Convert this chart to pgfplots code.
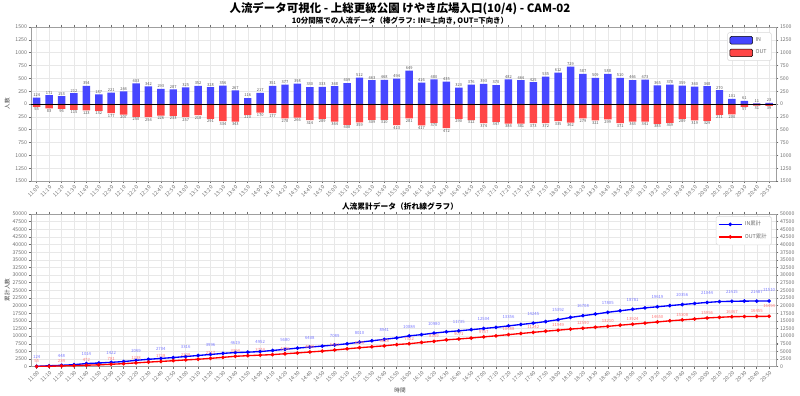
\documentclass[border=0pt]{standalone}
\usepackage{fontspec}
\setmainfont{Noto Sans CJK JP}
\usepackage{pgfplots}
\usepackage{pgfplotstable}
\pgfplotsset{compat=1.18}
\definecolor{inbar}{RGB}{70,70,255}
\definecolor{outbar}{RGB}{255,70,70}
\definecolor{gridc}{RGB}{232,232,232}
\definecolor{tickc}{RGB}{110,110,110}
\definecolor{inlab}{RGB}{120,120,255}
\definecolor{outlab}{RGB}{255,120,120}
\pgfplotsset{/pgf/number format/assume math mode=true, /pgf/number format/1000 sep={}}

\pgfplotstableread{
i vin vout cin cout
0 124 55 124 55
1 171 83 295 138
2 153 96 448 234
3 212 115 660 349
4 354 123 1014 472
5 187 132 1201 604
6 221 177 1422 781
7 244 207 1666 988
8 403 250 2069 1238
9 342 254 2411 1492
10 293 226 2704 1718
11 287 233 2991 1951
12 325 257 3316 2208
13 352 218 3668 2426
14 328 291 3996 2717
15 356 334 4352 3051
16 267 343 4619 3394
17 116 210 4735 3604
18 217 170 4952 3774
19 351 177 5303 3951
20 377 278 5680 4229
21 398 266 6078 4495
22 330 314 6408 4809
23 333 289 6741 5098
24 348 344 7089 5442
25 409 408 7498 5850
26 512 359 8010 6209
27 463 309 8473 6518
28 468 310 8941 6828
29 494 413 9435 7241
30 649 281 10084 7522
31 416 417 10500 7939
32 480 370 10980 8309
33 435 472 11415 8781
34 320 290 11735 9071
35 376 312 12111 9383
36 393 374 12504 9757
37 370 347 12874 10104
38 482 384 13356 10488
39 464 381 13820 10869
40 425 373 14245 11242
41 535 372 14780 11614
42 612 335 15392 11949
43 729 362 16121 12311
44 587 279 16708 12590
45 509 321 17217 12911
46 588 299 17805 13210
47 510 371 18315 13581
48 466 343 18781 13924
49 473 341 19254 14265
50 365 385 19619 14650
51 378 369 19997 15019
52 359 289 20356 15308
53 340 319 20696 15627
54 348 329 21044 15956
55 270 211 21314 16167
56 101 200 21415 16367
57 61 57 21476 16424
58 11 31 21487 16455
59 23 39 21510 16494
}\data

\pgfplotstableread{
i cin cout
0 124 55
2 448 234
4 1014 472
6 1422 781
8 2069 1238
10 2704 1718
12 3316 2208
14 3996 2717
16 4619 3394
18 4952 3774
20 5680 4229
22 6408 4809
24 7089 5442
26 8010 6209
28 8941 6828
30 10084 7522
32 10980 8309
34 11735 9071
36 12504 9757
38 13356 10488
40 14245 11242
42 15392 11949
44 16708 12590
46 17805 13210
48 18781 13924
50 19619 14650
52 20356 15308
54 21044 15956
56 21415 16367
58 21487 16455
}\labs

\pgfplotstableread{
i cin cout
59 21510 16494
}\lastlab

\def\times{11:00,11:10,11:20,11:30,11:40,11:50,12:00,12:10,12:20,12:30,12:40,12:50,13:00,13:10,13:20,13:30,13:40,13:50,14:00,14:10,14:20,14:30,14:40,14:50,15:00,15:10,15:20,15:30,15:40,15:50,16:00,16:10,16:20,16:30,16:40,16:50,17:00,17:10,17:20,17:30,17:40,17:50,18:00,18:10,18:20,18:30,18:40,18:50,19:00,19:10,19:20,19:30,19:40,19:50,20:00,20:10,20:20,20:30,20:40,20:50}

\pgfplotsset{
  common/.style={
    scale only axis, width=558.75pt, anchor=south west,
    xmin=-0.46, xmax=59.55,
    xtick={0,...,59},
    grid=major, grid style={gridc, line width=0.35pt},
    tick align=outside, major tick length=1.8pt,
    tick style={tickc, line width=0.4pt},
    axis line style={gray!75, line width=0.6pt},
    ticklabel style={font=\fontsize{3.9}{4.5}\selectfont, text=tickc},
    xticklabel style={rotate=45, anchor=north east, inner sep=0.8pt},
    yticklabel style={inner sep=1pt},
  },
  cumlab/.style={draw=none, mark=none, forget plot, nodes near coords, point meta=explicit,
    every node near coord/.append style={font=\fontsize{3.2}{3.6}\selectfont, anchor=center, inner sep=0pt}},
}

\begin{document}
\begin{tikzpicture}
\useasboundingbox (0,0) rectangle (600pt,297pt);

% ---------- top: bars ----------
\begin{axis}[common,
  at={(23.25pt,161.25pt)}, height=115.5pt,
  ymin=-1500, ymax=1500,
  ytick={-1500,-1250,...,1500},
  yticklabels={1500,1250,1000,750,500,250,0,250,500,750,1000,1250,1500},
  xticklabels/.expand once={\times},
  legend style={at={(0.994,0.965)}, anchor=north east, draw=gray!30,
    font=\fontsize{4}{5}\selectfont, text=tickc, row sep=1pt, inner sep=1.5pt,
    rounded corners=1pt},
  legend cell align=left,
  area legend,
]
\addplot[ybar, bar width=0.6, bar shift=0pt, fill=inbar, draw=none,
  nodes near coords, nodes near coords align=vertical, point meta=explicit,
  every node near coord/.append style={font=\fontsize{3}{3.5}\selectfont, text=black!65, inner sep=0.6pt}]
  table[x=i, y=vin, meta=vin]{\data};
\addlegendentry{IN}
\addplot[ybar, bar width=0.6, bar shift=0pt, fill=outbar, draw=none,
  visualization depends on={\thisrow{vout} \as \outval},
  nodes near coords={\pgfmathprintnumber[fixed,precision=0]{\outval}},
  nodes near coords align=vertical, point meta=y,
  every node near coord/.append style={font=\fontsize{3}{3.5}\selectfont, text=black!65, inner sep=0.6pt}]
  table[x=i, y expr=-\thisrow{vout}]{\data};
\addlegendentry{OUT}
\addplot[black, line width=0.6pt, forget plot] coordinates {(-0.46,0) (59.55,0)};
\end{axis}
\begin{axis}[common,
  at={(23.25pt,161.25pt)}, height=115.5pt,
  ymin=-1500, ymax=1500, grid=none,
  hide x axis, axis y line*=right,
  ytick={-1500,-1250,...,1500},
  yticklabels={1500,1250,1000,750,500,250,0,250,500,750,1000,1250,1500},
]
\addplot[draw=none, forget plot] coordinates {(0,0)};
\end{axis}

% ---------- bottom: cumulative ----------
\begin{axis}[common,
  at={(23.25pt,22pt)}, height=114.5pt,
  ymin=0, ymax=50000,
  ytick={0,2500,...,50000}, scaled y ticks=false,
  xticklabels/.expand once={\times},
  legend style={at={(0.994,0.985)}, anchor=north east, draw=gray!30,
    font=\fontsize{4}{5}\selectfont, text=tickc, row sep=0.5pt, inner sep=1.5pt,
    rounded corners=1pt},
  legend cell align=left,
]
\addplot[blue, line width=1pt, mark=*, mark size=0.8pt] table[x=i, y=cin]{\data};
\addlegendentry{IN累計}
\addplot[red, line width=1pt, mark=*, mark size=0.8pt] table[x=i, y=cout]{\data};
\addlegendentry{OUT累計}
\addplot[cumlab, every node near coord/.append style={text=inlab, yshift=7pt}]
  table[x=i, y=cin, meta=cin]{\labs};
\addplot[cumlab, every node near coord/.append style={text=outlab, yshift=3.9pt}]
  table[x=i, y=cout, meta=cout]{\labs};
\addplot[cumlab, every node near coord/.append style={text=inlab, yshift=8pt}]
  table[x=i, y=cin, meta=cin]{\lastlab};
\addplot[cumlab, every node near coord/.append style={text=outlab, yshift=7.5pt}]
  table[x=i, y=cout, meta=cout]{\lastlab};
\end{axis}
\begin{axis}[common,
  at={(23.25pt,22pt)}, height=114.5pt,
  ymin=0, ymax=50000, grid=none,
  hide x axis, axis y line*=right,
  ytick={0,2500,...,50000}, scaled y ticks=false,
]
\addplot[draw=none, forget plot] coordinates {(0,0)};
\end{axis}

% ---------- titles and labels ----------
\node[font=\bfseries\fontsize{8.6}{10}\selectfont] at (300pt,290.2pt) {人流データ可視化 - 上総更級公園 けやき広場入口(10/4) - CAM-02};
\node[font=\bfseries\fontsize{5.6}{6.5}\selectfont] at (300pt,281.2pt) {10分間隔での人流データ（棒グラフ: IN=上向き, OUT=下向き）};
\node[font=\bfseries\fontsize{5.8}{6.5}\selectfont] at (300pt,141.8pt) {人流累計データ（折れ線グラフ）};
\node[rotate=90, font=\fontsize{4.2}{5}\selectfont, text=black!75] at (5.5pt,219pt) {人数};
\node[rotate=90, font=\fontsize{4.2}{5}\selectfont, text=black!75] at (5.5pt,79.5pt) {累計人数};
\node[font=\fontsize{4.2}{5}\selectfont, text=black!75] at (300pt,4.5pt) {時間};
\end{tikzpicture}
\end{document}
